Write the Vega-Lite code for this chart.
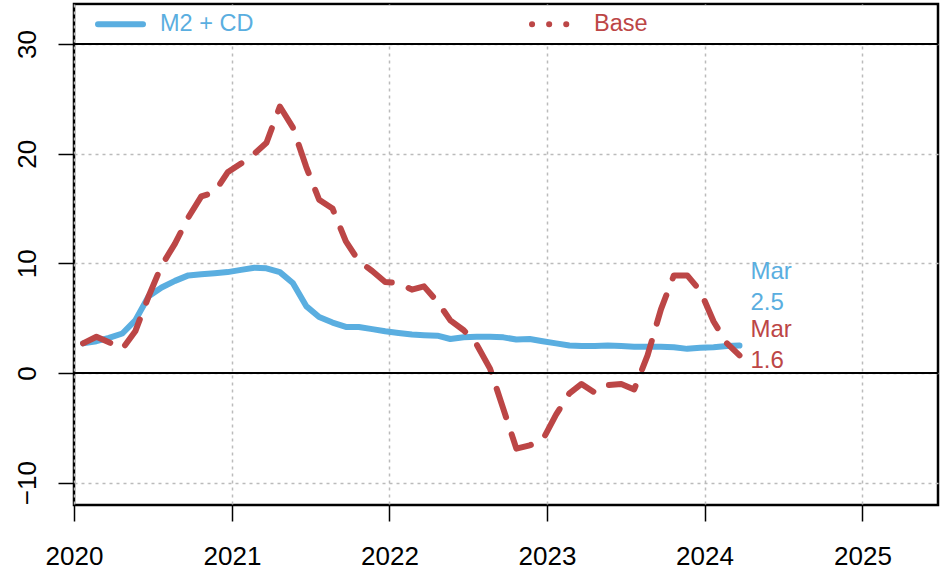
{
  "$schema": "https://vega.github.io/schema/vega-lite/v6.json",
  "width": 864,
  "height": 501,
  "autosize": {"type": "none"},
  "padding": {"left": 74, "top": 4, "right": 7, "bottom": 66},
  "background": "white",
  "config": {
    "font": "Liberation Sans",
    "view": {"stroke": "black", "strokeWidth": 2.5},
    "axis": {
      "domain": false,
      "grid": true,
      "gridColor": "#bbbbbb",
      "gridDash": [3, 4],
      "gridWidth": 1.5,
      "tickColor": "black",
      "tickWidth": 1.5,
      "tickSize": 16,
      "labelColor": "black",
      "labelFontSize": 26,
      "labelFont": "Liberation Sans",
      "title": null
    },
    "legend": {"labelFont": "Liberation Sans"}
  },
  "datasets": {
    "series": [
      {"date": "2020-01-22", "series": "M2 + CD", "value": 2.7},
      {"date": "2020-02-22", "series": "M2 + CD", "value": 2.9},
      {"date": "2020-03-22", "series": "M2 + CD", "value": 3.2},
      {"date": "2020-04-22", "series": "M2 + CD", "value": 3.6},
      {"date": "2020-05-22", "series": "M2 + CD", "value": 4.8},
      {"date": "2020-06-22", "series": "M2 + CD", "value": 7.0},
      {"date": "2020-07-22", "series": "M2 + CD", "value": 7.8},
      {"date": "2020-08-22", "series": "M2 + CD", "value": 8.4},
      {"date": "2020-09-22", "series": "M2 + CD", "value": 8.9},
      {"date": "2020-10-22", "series": "M2 + CD", "value": 9.0},
      {"date": "2020-11-22", "series": "M2 + CD", "value": 9.1},
      {"date": "2020-12-22", "series": "M2 + CD", "value": 9.2},
      {"date": "2021-01-22", "series": "M2 + CD", "value": 9.4},
      {"date": "2021-02-22", "series": "M2 + CD", "value": 9.6},
      {"date": "2021-03-22", "series": "M2 + CD", "value": 9.55},
      {"date": "2021-04-22", "series": "M2 + CD", "value": 9.2},
      {"date": "2021-05-22", "series": "M2 + CD", "value": 8.2},
      {"date": "2021-06-22", "series": "M2 + CD", "value": 6.1},
      {"date": "2021-07-22", "series": "M2 + CD", "value": 5.1},
      {"date": "2021-08-22", "series": "M2 + CD", "value": 4.6},
      {"date": "2021-09-22", "series": "M2 + CD", "value": 4.2},
      {"date": "2021-10-22", "series": "M2 + CD", "value": 4.2},
      {"date": "2021-11-22", "series": "M2 + CD", "value": 4.0},
      {"date": "2021-12-22", "series": "M2 + CD", "value": 3.8},
      {"date": "2022-01-22", "series": "M2 + CD", "value": 3.65},
      {"date": "2022-02-22", "series": "M2 + CD", "value": 3.5},
      {"date": "2022-03-22", "series": "M2 + CD", "value": 3.45},
      {"date": "2022-04-22", "series": "M2 + CD", "value": 3.4},
      {"date": "2022-05-22", "series": "M2 + CD", "value": 3.1},
      {"date": "2022-06-22", "series": "M2 + CD", "value": 3.25},
      {"date": "2022-07-22", "series": "M2 + CD", "value": 3.3},
      {"date": "2022-08-22", "series": "M2 + CD", "value": 3.3},
      {"date": "2022-09-22", "series": "M2 + CD", "value": 3.25},
      {"date": "2022-10-22", "series": "M2 + CD", "value": 3.05},
      {"date": "2022-11-22", "series": "M2 + CD", "value": 3.1},
      {"date": "2022-12-22", "series": "M2 + CD", "value": 2.9},
      {"date": "2023-01-22", "series": "M2 + CD", "value": 2.7},
      {"date": "2023-02-22", "series": "M2 + CD", "value": 2.5},
      {"date": "2023-03-22", "series": "M2 + CD", "value": 2.45},
      {"date": "2023-04-22", "series": "M2 + CD", "value": 2.45},
      {"date": "2023-05-22", "series": "M2 + CD", "value": 2.5},
      {"date": "2023-06-22", "series": "M2 + CD", "value": 2.45},
      {"date": "2023-07-22", "series": "M2 + CD", "value": 2.4},
      {"date": "2023-08-22", "series": "M2 + CD", "value": 2.4},
      {"date": "2023-09-22", "series": "M2 + CD", "value": 2.4},
      {"date": "2023-10-22", "series": "M2 + CD", "value": 2.35},
      {"date": "2023-11-22", "series": "M2 + CD", "value": 2.2},
      {"date": "2023-12-22", "series": "M2 + CD", "value": 2.3},
      {"date": "2024-01-22", "series": "M2 + CD", "value": 2.35},
      {"date": "2024-02-22", "series": "M2 + CD", "value": 2.45},
      {"date": "2024-03-22", "series": "M2 + CD", "value": 2.5},
      {"date": "2020-01-22", "series": "Base", "value": 2.7},
      {"date": "2020-02-22", "series": "Base", "value": 3.3},
      {"date": "2020-03-22", "series": "Base", "value": 2.8},
      {"date": "2020-04-22", "series": "Base", "value": 2.2},
      {"date": "2020-05-22", "series": "Base", "value": 3.8},
      {"date": "2020-06-22", "series": "Base", "value": 7.0},
      {"date": "2020-07-22", "series": "Base", "value": 9.8},
      {"date": "2020-08-22", "series": "Base", "value": 11.8},
      {"date": "2020-09-22", "series": "Base", "value": 14.2},
      {"date": "2020-10-22", "series": "Base", "value": 16.1},
      {"date": "2020-11-22", "series": "Base", "value": 16.5},
      {"date": "2020-12-22", "series": "Base", "value": 18.3},
      {"date": "2021-01-22", "series": "Base", "value": 19.1},
      {"date": "2021-02-22", "series": "Base", "value": 20.0},
      {"date": "2021-03-22", "series": "Base", "value": 21.0},
      {"date": "2021-04-22", "series": "Base", "value": 24.3},
      {"date": "2021-05-22", "series": "Base", "value": 22.4},
      {"date": "2021-06-22", "series": "Base", "value": 18.8},
      {"date": "2021-07-22", "series": "Base", "value": 15.8},
      {"date": "2021-08-22", "series": "Base", "value": 15.0},
      {"date": "2021-09-22", "series": "Base", "value": 12.0},
      {"date": "2021-10-22", "series": "Base", "value": 10.2},
      {"date": "2021-11-22", "series": "Base", "value": 9.3},
      {"date": "2021-12-22", "series": "Base", "value": 8.3},
      {"date": "2022-01-22", "series": "Base", "value": 8.2},
      {"date": "2022-02-22", "series": "Base", "value": 7.6},
      {"date": "2022-03-22", "series": "Base", "value": 7.9},
      {"date": "2022-04-22", "series": "Base", "value": 6.5},
      {"date": "2022-05-22", "series": "Base", "value": 4.8},
      {"date": "2022-06-22", "series": "Base", "value": 3.9},
      {"date": "2022-07-22", "series": "Base", "value": 2.6},
      {"date": "2022-08-22", "series": "Base", "value": 0.4},
      {"date": "2022-09-22", "series": "Base", "value": -3.3},
      {"date": "2022-10-22", "series": "Base", "value": -6.9},
      {"date": "2022-11-22", "series": "Base", "value": -6.6},
      {"date": "2022-12-22", "series": "Base", "value": -6.1},
      {"date": "2023-01-22", "series": "Base", "value": -3.8},
      {"date": "2023-02-22", "series": "Base", "value": -1.85},
      {"date": "2023-03-22", "series": "Base", "value": -1.0},
      {"date": "2023-04-22", "series": "Base", "value": -1.8},
      {"date": "2023-05-22", "series": "Base", "value": -1.1},
      {"date": "2023-06-22", "series": "Base", "value": -1.0},
      {"date": "2023-07-22", "series": "Base", "value": -1.5},
      {"date": "2023-08-22", "series": "Base", "value": 1.6},
      {"date": "2023-09-22", "series": "Base", "value": 5.8},
      {"date": "2023-10-22", "series": "Base", "value": 8.9},
      {"date": "2023-11-22", "series": "Base", "value": 8.9},
      {"date": "2023-12-22", "series": "Base", "value": 7.5},
      {"date": "2024-01-22", "series": "Base", "value": 4.7},
      {"date": "2024-02-22", "series": "Base", "value": 2.7},
      {"date": "2024-03-22", "series": "Base", "value": 1.6}
    ],
    "ends": [
      {"date": "2024-03-22", "series": "M2 + CD", "value": 2.5, "label": ["Mar", "2.5"]},
      {"date": "2024-03-22", "series": "Base", "value": 1.6, "label": ["Mar", "1.6"]}
    ]
  },
  "layer": [
    {
      "data": {"name": "series"},
      "transform": [{"filter": "datum.series === 'M2 + CD'"}],
      "mark": {"type": "line", "strokeWidth": 6, "strokeCap": "round", "strokeJoin": "round", "clip": true},
      "encoding": {
        "x": {
          "field": "date", "type": "temporal",
          "scale": {"type": "utc", "domain": [{"year": 2020, "month": 1, "date": 1, "utc": true}, {"year": 2025, "month": 6, "date": 25, "utc": true}], "nice": false},
          "axis": {"format": "%Y", "tickCount": {"interval": "year", "step": 1}, "labelFlush": false, "labelOverlap": false, "labelBaseline": "alphabetic", "labelPadding": 43}
        },
        "y": {
          "field": "value", "type": "quantitative",
          "scale": {"domain": [-12.04, 33.65], "nice": false, "zero": false},
          "axis": {"values": [-10, 0, 10, 20, 30], "labelAngle": 270, "labelAlign": "center", "labelBaseline": "alphabetic", "labelPadding": 23}
        },
        "color": {
          "field": "series", "type": "nominal",
          "scale": {"domain": ["M2 + CD", "Base"], "range": ["#5aaee0", "#bc4646"]},
          "legend": {
            "title": null,
            "orient": "none",
            "legendX": 21,
            "legendY": -5.5,
            "direction": "horizontal",
            "padding": 0,
            "symbolType": "stroke",
            "symbolSize": 2025,
            "symbolStrokeWidth": 6,
            "labelOffset": 14,
            "labelFontSize": 23.5,
            "labelBaseline": "middle",
            "columnPadding": 266,
            "encode": {
              "symbols": {"update": {"strokeDash": {"signal": "datum.value === 'Base' ? [0.1, 17] : [1, 0]"}, "strokeCap": {"value": "round"}}},
              "labels": {"update": {"fill": {"signal": "datum.value === 'Base' ? '#bc4646' : '#5aaee0'"}}}
            }
          }
        }
      }
    },
    {
      "data": {"name": "series"},
      "transform": [{"filter": "datum.series === 'Base'"}],
      "mark": {"type": "line", "strokeWidth": 6, "strokeCap": "round", "strokeJoin": "round", "strokeDash": [30, 18], "clip": true},
      "encoding": {
        "x": {"field": "date", "type": "temporal"},
        "y": {"field": "value", "type": "quantitative"},
        "color": {"field": "series", "type": "nominal"}
      }
    },
    {
      "data": {"values": [{}]},
      "mark": {"type": "rect", "fill": "white", "clip": true},
      "encoding": {
        "x": {"datum": {"year": 2020, "month": 1, "date": 6, "utc": true}, "type": "temporal"},
        "x2": {"datum": {"year": 2025, "month": 6, "date": 20, "utc": true}},
        "y": {"datum": 30, "type": "quantitative"},
        "y2": {"datum": 33.5}
      }
    },
    {
      "data": {"values": [{"v": 0}, {"v": 30}]},
      "mark": {"type": "rule", "color": "black", "strokeWidth": 1.8},
      "encoding": {"y": {"field": "v", "type": "quantitative"}}
    },
    {
      "data": {"name": "ends"},
      "transform": [{"filter": "datum.series === 'M2 + CD'"}],
      "mark": {"type": "text", "align": "left", "baseline": "alphabetic", "dx": 11, "dy": -66.5, "fontSize": 24, "lineHeight": 31, "fill": "#5aaee0"},
      "encoding": {
        "x": {"field": "date", "type": "temporal"},
        "y": {"field": "value", "type": "quantitative"},
        "text": {"field": "label"}
      }
    },
    {
      "data": {"name": "ends"},
      "transform": [{"filter": "datum.series === 'Base'"}],
      "mark": {"type": "text", "align": "left", "baseline": "alphabetic", "dx": 11, "dy": -18, "fontSize": 24, "lineHeight": 31, "fill": "#bc4646"},
      "encoding": {
        "x": {"field": "date", "type": "temporal"},
        "y": {"field": "value", "type": "quantitative"},
        "text": {"field": "label"}
      }
    }
  ]
}
